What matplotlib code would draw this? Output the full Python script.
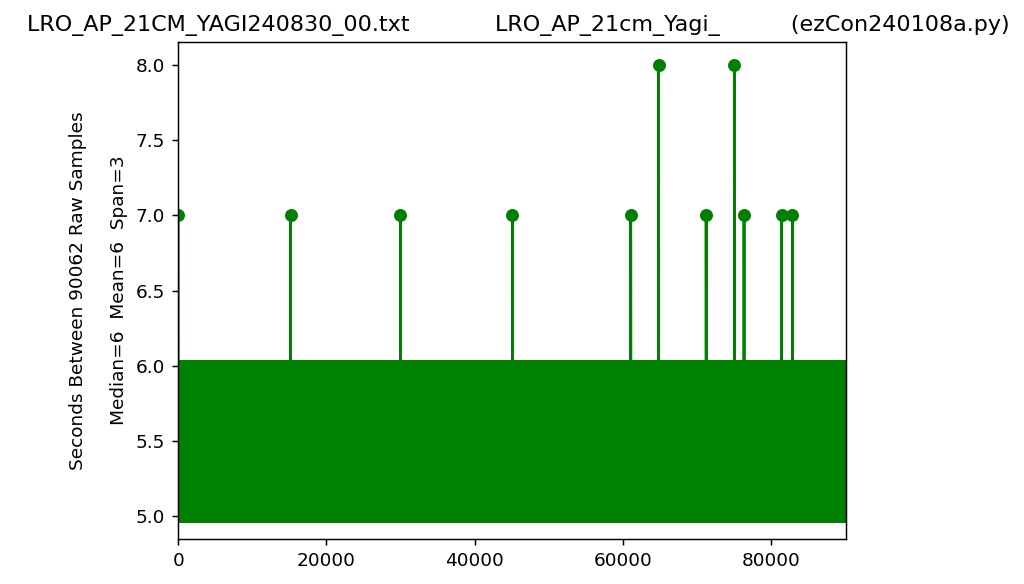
import numpy as np
import matplotlib
matplotlib.use("Agg")
import matplotlib.pyplot as plt

# ── data ──────────────────────────────────────────────────────────────────────
n_samples = 90062
# typical repeating gap pattern (seconds between raw samples)
base_pattern = [6, 6, 6, 5]
# sample indices where the gap jumped to 7 or 8 seconds
spike_idx = [0, 15153, 29983, 45082, 61042, 64807, 71220, 75025, 76330, 81385, 82864]
spike_val = [7, 7, 7, 7, 7, 8, 7, 8, 7, 7, 7]

title_text = ("LRO_AP_21CM_YAGI240830_00.txt            "
              "LRO_AP_21cm_Yagi_          (ezCon240108a.py)")
ylabel_text = "Seconds Between 90062 Raw Samples\n\nMedian=6  Mean=6  Span=3"

# ── build series ──────────────────────────────────────────────────────────────
gaps = np.resize(np.array(base_pattern, dtype=float), n_samples)
gaps[spike_idx] = spike_val
x = np.arange(n_samples)

# ── plot ──────────────────────────────────────────────────────────────────────
DPI = 1024 / 7.68
fig = plt.figure(figsize=(7.68, 4.38), dpi=DPI)
ax = fig.add_axes([0.174, 0.077, 0.652, 0.851])
ax.plot(x, gaps, "go-")
ax.set_xlim(0, n_samples - 1)
ax.set_title(title_text, x=0.51)
ax.set_ylabel(ylabel_text)
fig.savefig("out.png", dpi=DPI)
